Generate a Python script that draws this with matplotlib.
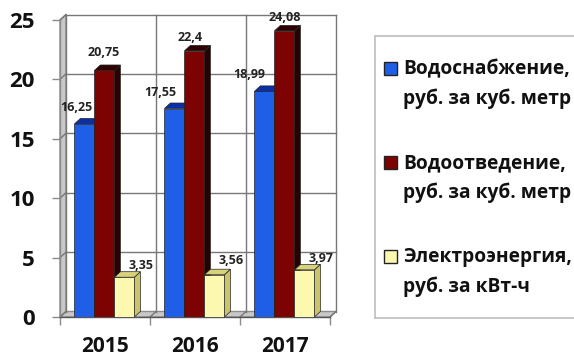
import matplotlib
matplotlib.use("Agg")
import matplotlib.pyplot as plt
from matplotlib.patches import Polygon, Rectangle

FONT = "Open Sans"
plt.rcParams['font.family'] = [FONT, 'DejaVu Sans']
plt.rcParams['font.weight'] = 'bold'

years = ["2015", "2016", "2017"]
water = [16.25, 17.55, 18.99]
sewer = [20.75, 22.4, 24.08]
power = [3.35, 3.56, 3.97]
series_names = ["Водоснабжение,\nруб. за куб. метр",
                "Водоотведение,\nруб. за куб. метр",
                "Электроэнергия,\nруб. за кВт-ч"]
labels_water = ["16,25", "17,55", "18,99"]
labels_sewer = ["20,75", "22,4", "24,08"]
labels_power = ["3,35", "3,56", "3,97"]

W, H = 574, 358
fig = plt.figure(figsize=(W / 100, H / 100), dpi=100, facecolor="white")
L, R, B, T = 60, 330, 317, 20
ax = fig.add_axes([L / W, 1 - B / H, (R - L) / W, (B - T) / H])
ax.set_xlim(0, 3)
ax.set_ylim(0, 25)
ax.patch.set_visible(False)
for s in ax.spines.values():
    s.set_visible(False)

DX = 6 * 3 / (R - L)          # depth in x units
DY = 5.5 * 25 / (B - T)       # depth in y units
GRAY = "#8c8c8c"
GRID = "#777777"

# walls
ax.add_patch(Polygon([(0, 0), (DX, DY), (DX, 25 + DY), (0, 25)], fc="#c8c8c8", ec=GRAY, lw=1, clip_on=False, zorder=1))
ax.add_patch(Polygon([(0, 0), (3, 0), (3 + DX, DY), (DX, DY)], fc="#c8c8c8", ec=GRAY, lw=1, clip_on=False, zorder=1))
for v in range(5, 30, 5):
    ax.plot([DX, 3 + DX], [v + DY, v + DY], color=GRID, lw=1, clip_on=False, zorder=1.5)
    ax.plot([0, DX], [v, v + DY], color=GRID, lw=1, clip_on=False, zorder=1.5)
for i in range(4):
    ax.plot([i + DX, i + DX], [DY, 25 + DY], color=GRID, lw=1, clip_on=False, zorder=1.5)
    ax.plot([i, i + DX], [0, DY], color=GRID, lw=1, clip_on=False, zorder=1.5)
ax.plot([0, 0], [0, 25], color=GRAY, lw=1, clip_on=False, zorder=1.6)
ax.plot([0, 3], [0, 0], color="#555555", lw=1, clip_on=False, zorder=1.6)

BW = 20 * 3 / (R - L)
START = 0.16


def bar3d(x, v, front, top, side):
    z = 3
    ax.add_patch(Polygon([(x + BW, 0), (x + BW + DX, DY), (x + BW + DX, v + DY), (x + BW, v)],
                         fc=side, ec="#222222", lw=0.5, zorder=z, clip_on=False))
    ax.add_patch(Polygon([(x, v), (x + BW, v), (x + BW + DX, v + DY), (x + DX, v + DY)],
                         fc=top, ec="#222222", lw=0.5, zorder=z, clip_on=False))
    ax.bar(x, v, BW, align="edge", color=front, edgecolor="#222222", lw=0.5, zorder=z + 0.1)


styles = [("#1f5fe8", "#0b2fa8", "#0a2a90"), ("#7d0303", "#2e0000", "#260202"), ("#fdf8b0", "#d8d27a", "#c9c46a")]
offs = {0: [(-8, 16), (-14, 16), (-15, 17)], 1: [(-1, 18), (-4, 13), (0, 13)], 2: [(17, 12), (17, 14), (17, 11)]}
texts = [labels_water, labels_sewer, labels_power]
for k, vals in enumerate([water, sewer, power]):
    for i, v in enumerate(vals):
        bar3d(i + START + k * BW, v, *styles[k])
for k, vals in enumerate([water, sewer, power]):
    for i, v in enumerate(vals):
        x = i + START + k * BW
        ax.annotate(texts[k][i], (x + BW / 2, v), xytext=(offs[k][i][0] * .72, offs[k][i][1] * .72),
                    textcoords="offset points", ha="center", va="center", fontsize=9,
                    color="#222222", zorder=6, annotation_clip=False)

ax.set_yticks(range(0, 30, 5))
ax.tick_params(axis="y", length=6, width=1, color=GRAY, labelsize=16, pad=12, labelcolor="#111111")
ax.set_xticks(range(4))
ax.set_xticklabels([])
ax.tick_params(axis="x", length=6, width=1, color=GRAY)
ax.set_xticks([i + 0.5 for i in range(3)], minor=True)
ax.set_xticklabels(years, minor=True, fontsize=15, color="#111111")
ax.tick_params(axis="x", which="minor", length=0, pad=13.5)

# legend box running off the right edge, with swatches aligned to first lines
fig.add_artist(Rectangle((375 / W, 1 - 318 / H), (W + 20 - 375) / W, (318 - 36) / H, fc="white",
                         ec="#bdbdbd", lw=1.2, transform=fig.transFigure))
entry_y = [84, 178, 272]
for name, y, st in zip(series_names, entry_y, styles):
    fig.add_artist(Rectangle((384 / W, 1 - (y - 9) / H), 13 / W, 13 / H, fc=st[0], ec="#222222", lw=1,
                             transform=fig.transFigure))
    fig.text(403 / W, 1 - y / H, name, fontsize=13.8, color="#111111", ha="left", va="center",
             linespacing=1.55)

fig.savefig("out.png", dpi=100)
